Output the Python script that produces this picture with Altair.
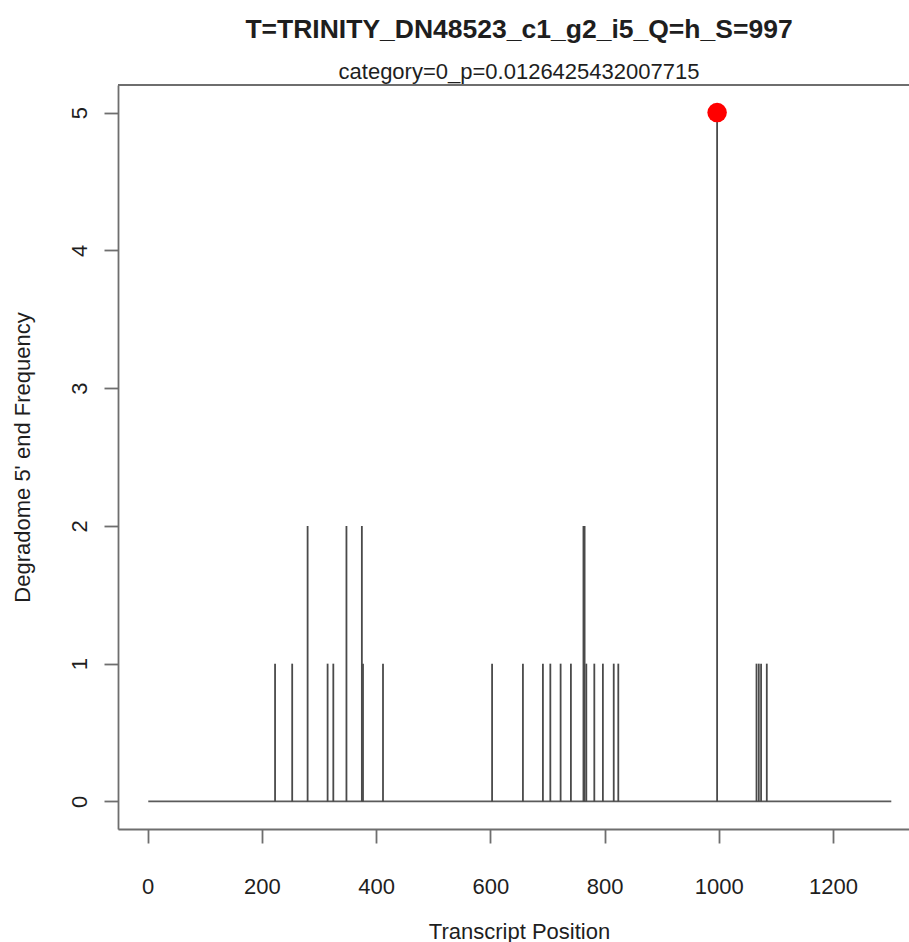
import altair as alt
import pandas as pd

# Degradome 5' end read counts along the transcript
positions = [223, 253, 280, 315, 325, 348, 375, 377, 412,
             603, 657, 692, 705, 723, 741, 763, 765, 768, 782, 797, 816, 824,
             997, 1066, 1070, 1074, 1084]
counts = [1, 1, 2, 1, 1, 2, 2, 1, 1,
          1, 1, 1, 1, 1, 1, 2, 2, 1, 1, 1, 1, 1,
          5, 1, 1, 1, 1]

transcript_start = 1
transcript_end = 1302

# cleavage site highlighted in red
site_pos = [997]
site_count = [5]

x_ticks = [0, 200, 400, 600, 800, 1000, 1200]
y_ticks = [0, 1, 2, 3, 4, 5]

FONT = "Liberation Sans"
LINE = "#6e6e6e"
TEXT = "#1e1e1e"

spikes = pd.DataFrame({"pos": positions, "count": counts, "zero": 0})
base = pd.DataFrame({"start": [transcript_start], "end": [transcript_end], "y": [0]})
site = pd.DataFrame({"pos": site_pos, "count": site_count})

x_scale = alt.Scale(domain=[-52, 1333], nice=False, zero=False)
y_scale = alt.Scale(domain=[-0.2, 5.2], nice=False, zero=False)

x_axis = alt.Axis(
    values=x_ticks, format="d", title="Transcript Position", grid=False,
    domainColor=LINE, domainWidth=1.8, tickColor=LINE, tickWidth=1.8, tickSize=14,
    labelFont=FONT, labelFontSize=22, labelColor=TEXT, labelBaseline="alphabetic",
    labelPadding=50, labelFlush=False, labelOverlap=False,
    titleFont=FONT, titleFontSize=22, titleFontWeight="normal", titleColor=TEXT,
    titleBaseline="alphabetic", titleY=109, titleX=401,
)
y_axis = alt.Axis(
    values=y_ticks, format="d", title="Degradome 5' end Frequency", grid=False,
    domainColor=LINE, domainWidth=1.8, tickColor=LINE, tickWidth=1.8, tickSize=14,
    labelFont=FONT, labelFontSize=22, labelColor=TEXT, labelAngle=270,
    labelAlign="center", labelBaseline="alphabetic", labelPadding=18,
    labelFlush=False, labelOverlap=False,
    titleFont=FONT, titleFontSize=22, titleFontWeight="normal", titleColor=TEXT,
    titleBaseline="alphabetic", titleX=-89, titleAngle=270,
)

baseline = alt.Chart(base).mark_rule(color="#5a5a5a", strokeWidth=1.8).encode(
    x=alt.X("start:Q", scale=x_scale, axis=x_axis),
    x2="end:Q",
    y=alt.Y("y:Q", scale=y_scale, axis=y_axis),
)

lines = alt.Chart(spikes).mark_rule(color="#4a4a4a", strokeWidth=1.8).encode(
    x=alt.X("pos:Q", scale=x_scale),
    y=alt.Y("zero:Q", scale=y_scale),
    y2="count:Q",
)

top_border = alt.Chart(base).mark_rule(color=LINE, strokeWidth=1.8).encode(
    x=alt.value(0), x2=alt.value(791), y=alt.value(0)
)

dot = alt.Chart(site).mark_circle(color="#ff0000", opacity=1, size=380).encode(
    x=alt.X("pos:Q", scale=x_scale),
    y=alt.Y("count:Q", scale=y_scale),
)

chart = alt.layer(baseline, lines, top_border, dot).properties(
    width=791,
    height=744,
    padding={"left": 118, "top": 85, "right": 0, "bottom": 113},
    autosize=alt.AutoSizeParams(type="none"),
    title=alt.TitleParams(
        text="T=TRINITY_DN48523_c1_g2_i5_Q=h_S=997",
        subtitle="category=0_p=0.0126425432007715",
        font=FONT, fontSize=26.5, fontWeight="bold", color=TEXT,
        subtitleFont=FONT, subtitleFontSize=22, subtitleColor=TEXT,
        subtitlePadding=19, anchor="middle", dx=5.5, dy=3, offset=4,
    ),
).configure_view(stroke=None).configure(background="white")

chart.save("out.html", embed_options={"renderer": "svg", "actions": False})
